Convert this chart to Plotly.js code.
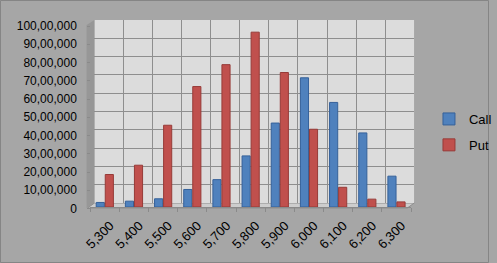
<!DOCTYPE html>
<html>
<head>
<meta charset="utf-8">
<script src="https://cdn.plot.ly/plotly-3.0.1.min.js"></script>
<style>html,body{margin:0;padding:0;background:#a6a6a6;}#chart{width:497px;height:263px;}</style>
</head>
<body>
<div id="chart"></div>
<script>
// ---- data ----
const strikes = ["5,300","5,400","5,500","5,600","5,700","5,800","5,900","6,000","6,100","6,200","6,300"];
const callOI = [250000, 320000, 450000, 960000, 1500000, 2800000, 4600000, 7080000, 5730000, 4060000, 1690000];
const putOI  = [1780000, 2290000, 4480000, 6600000, 7800000, 9580000, 7370000, 4260000, 1080000, 430000, 280000];
const yTickVals = [0,1000000,2000000,3000000,4000000,5000000,6000000,7000000,8000000,9000000,10000000];
const yTickText = ["0","10,00,000","20,00,000","30,00,000","40,00,000","50,00,000","60,00,000","70,00,000","80,00,000","90,00,000","100,00,000"];
const seriesNames = ["Call","Put"];

// pixel helpers (margins are zero, so paper == window)
const W = 497, H = 263;
const px = v => v / W;
const py = v => 1 - v / H;
const P = (x, y) => px(x).toFixed(4) + "," + py(y).toFixed(4);
const catIndex = strikes.map((s, i) => i);

const traces = [
  {type:"bar", name:seriesNames[0], x:strikes, y:callOI, xaxis:"x2", yaxis:"y2", legendgroup:"a",
   marker:{color:"#4f81bd", line:{color:"#35619a", width:1}}},
  {type:"bar", name:seriesNames[1], x:strikes, y:putOI, xaxis:"x2", yaxis:"y2", legendgroup:"b",
   marker:{color:"#c0504d", line:{color:"#973b38", width:1}}},
  // carrier for the depth-shifted label axes (draws nothing)
  {type:"scatter", mode:"none", x:catIndex, y:callOI, xaxis:"x3", yaxis:"y3",
   showlegend:false, hoverinfo:"skip"}
];

const font = {family:"Liberation Sans, Arial, sans-serif", size:12, color:"#000"};
const xfont = {family:"Liberation Sans, Arial, sans-serif", size:13, color:"#000"};

const layout = {
  width: W, height: H,
  margin:{l:0, r:0, t:0, b:0, pad:0},
  paper_bgcolor:"#a6a6a6",
  plot_bgcolor:"rgba(0,0,0,0)",
  font: font,
  barmode:"group",
  bargap:0.38,
  bargroupgap:0.1,
  showlegend:true,
  legend:{x:px(436), y:py(104), xanchor:"left", yanchor:"top", bgcolor:"rgba(0,0,0,0)",
          font:{family:font.family, size:13, color:"#000"}, traceorder:"grouped", tracegroupgap:6},
  // back wall grid axes
  xaxis:{domain:[px(96), px(421)], range:[0, 11], dtick:1, tick0:0, showgrid:true,
         gridcolor:"#8e8e8e", gridwidth:1, showticklabels:false, zeroline:false, showline:false,
         ticks:"", fixedrange:true},
  yaxis:{domain:[py(203), py(20)], range:[0, 10000000], tickvals:yTickVals, showgrid:true,
         gridcolor:"#8e8e8e", gridwidth:1, showticklabels:false, zeroline:false, ticks:"",
         fixedrange:true},
  // data axes
  xaxis2:{domain:[px(91.7), px(417.8)], anchor:"y2", type:"category", categoryorder:"array",
          categoryarray:strikes, showticklabels:false, showgrid:false, showline:true, linecolor:"#8a8a8a",
          ticks:"outside", ticklen:4, tickcolor:"#8a8a8a", tickson:"boundaries", fixedrange:true},
  yaxis2:{domain:[py(207), py(24.5)], anchor:"x2", range:[0, 10000000], tickvals:yTickVals,
          showticklabels:false, showgrid:false, zeroline:false, showline:false, ticks:"", fixedrange:true},
  // label-only axes (depth-shifted like the 3D original)
  xaxis3:{domain:[px(97), px(423)], anchor:"y3", range:[-0.5, strikes.length - 0.5],
          tickmode:"array", tickvals:catIndex, ticktext:strikes, tickangle:-45,
          showgrid:false, zeroline:false, showline:false, ticks:"", ticklabelstandoff:6,
          tickfont:xfont, fixedrange:true},
  yaxis3:{domain:[py(208.5), py(26)], anchor:"free", position:px(91.7), range:[0, 10000000], tickvals:yTickVals,
          ticktext:yTickText, showgrid:false, zeroline:false, showline:false,
          ticks:"outside", ticklen:3, tickcolor:"#8a8a8a", ticklabelstandoff:8,
          tickfont:font, fixedrange:true},
  shapes:[
    // back wall (subplot-referenced so it sits under the gridlines)
    {type:"rect", xref:"x", yref:"y", x0:0, x1:11, y0:0, y1:10000000,
     fillcolor:"#dcdcdc", line:{width:0}, layer:"below"},
    // side wall
    {type:"path", xref:"paper", yref:"paper", path:"M"+P(88,25)+" L"+P(96,20)+" L"+P(96,203)+" L"+P(88,208)+" Z",
     fillcolor:"#979797", line:{width:0}, layer:"below"},
    // floor
    {type:"path", xref:"paper", yref:"paper", path:"M"+P(96,203)+" L"+P(421,203)+" L"+P(414,208)+" L"+P(89,208)+" Z",
     fillcolor:"#cdcdcd", line:{color:"#8e8e8e", width:1}, layer:"below"},
    // outer border
    {type:"rect", xref:"paper", yref:"paper", x0:px(0.5), x1:px(496.5), y0:py(262.5), y1:py(0.5),
     fillcolor:"rgba(0,0,0,0)", line:{color:"#858585", width:1}}
  ]
};

Plotly.newPlot("chart", traces, layout, {displayModeBar:false, staticPlot:true});
</script>
</body>
</html>
